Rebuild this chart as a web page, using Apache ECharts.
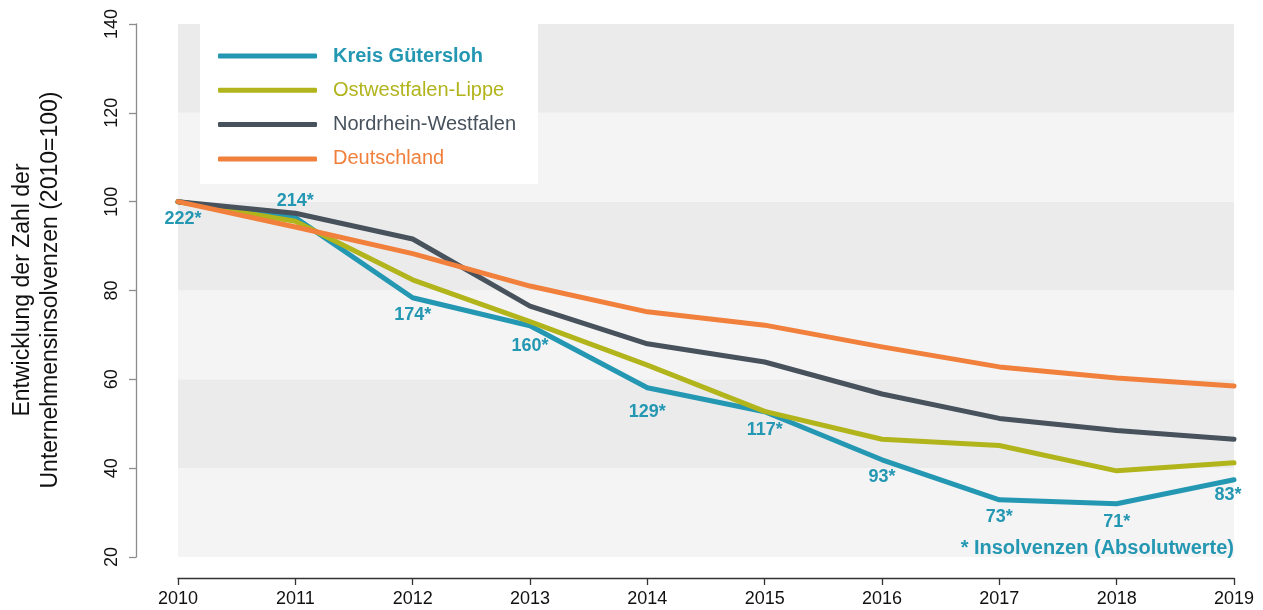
<!DOCTYPE html>
<html>
<head>
<meta charset="utf-8">
<title>Unternehmensinsolvenzen 2010–2019</title>
<script src="https://cdn.jsdelivr.net/npm/echarts@6/dist/echarts.min.js"></script>
<style>
  html, body { margin: 0; padding: 0; background: #fff; }
  #chart { width: 1263px; height: 610px; }
</style>
</head>
<body>
<div id="chart"></div>
<script>
// Jahre auf der x-Achse
const years = ['2010', '2011', '2012', '2013', '2014', '2015', '2016', '2017', '2018', '2019'];

// Kreis Gütersloh: absolute Zahl der Unternehmensinsolvenzen
const guetersloh_abs = [222, 214, 174, 160, 129, 117, 93, 73, 71, 83];

// Indexwerte (2010 = 100)
const owl = [100, 95.6, 82.4, 73.0, 63.2, 52.8, 46.5, 45.1, 39.4, 41.2];
const nrw = [100, 97.4, 91.6, 76.5, 68.0, 63.9, 56.7, 51.2, 48.5, 46.5];
const deutschland = [100, 94.3, 88.3, 81.0, 75.2, 72.2, 67.3, 62.8, 60.3, 58.5];

// Wertebereich der y-Achse
const yMin = 20, yMax = 140, yStep = 20;

const seriesNames = ['Kreis Gütersloh', 'Ostwestfalen-Lippe', 'Nordrhein-Westfalen', 'Deutschland'];
const colors = ['#2497b2', '#b2b41c', '#47525c', '#f0803c'];

// Index für Gütersloh aus den Absolutwerten (Basisjahr 2010)
const guetersloh = guetersloh_abs.map(v => v / guetersloh_abs[0] * 100);

// Lage der Beschriftungen je Jahr
const labelPos = ['bottom', 'top', 'bottom', 'bottom', 'bottom', 'bottom', 'bottom', 'bottom', 'bottom', 'bottom'];
const labelOffset = [[5, 0], [0, 0], [0, 0], [0, 3], [0, 7], [0, 1], [0, 0], [0, 0], [0, 1], [-6, -2]];

const FONT = "'Liberation Sans', Arial, Helvetica, sans-serif";

const chart = echarts.init(document.getElementById('chart'), null, { renderer: 'canvas' });

function lineSeries(name, data, color, extra) {
  return Object.assign({
    name: name,
    type: 'line',
    data: data,
    symbol: 'none',
    smooth: false,
    lineStyle: { width: 5, color: color, cap: 'round', join: 'round' },
    itemStyle: { color: color },
    emphasis: { disabled: true },
    z: 3
  }, extra || {});
}

const gueterslohData = guetersloh.map((v, i) => ({
  value: v,
  label: {
    show: true,
    position: labelPos[i],
    distance: 8,
    offset: labelOffset[i],
    formatter: guetersloh_abs[i] + '*'
  }
}));

const option = {
  animation: false,
  backgroundColor: '#ffffff',
  textStyle: { fontFamily: FONT },
  grid: { left: 178, right: 29, top: 24, bottom: 53, containLabel: false },
  xAxis: {
    type: 'category',
    data: years,
    boundaryGap: false,
    offset: 21,
    axisLine: { show: true, lineStyle: { color: '#333', width: 1.3 } },
    axisTick: { show: true, length: 7, lineStyle: { color: '#333', width: 1.3 } },
    axisLabel: { color: '#111', fontSize: 18, fontFamily: FONT, margin: 12 },
    splitLine: { show: false }
  },
  yAxis: {
    type: 'value',
    min: yMin,
    max: yMax,
    interval: yStep,
    offset: 42,
    axisLine: { show: true, lineStyle: { color: '#8c8c8c', width: 1.3 } },
    axisTick: { show: true, length: 7, lineStyle: { color: '#8c8c8c', width: 1.3 } },
    axisLabel: { color: '#111', fontSize: 18, fontFamily: FONT, rotate: 90, margin: 15 },
    splitLine: { show: false },
    splitArea: { show: true, areaStyle: { color: ['#f4f4f4', '#ebebeb'] } }
  },
  legend: {
    orient: 'vertical',
    left: 200,
    top: 24,
    backgroundColor: '#ffffff',
    padding: [22, 22, 15, 18],
    itemWidth: 99,
    itemHeight: 5,
    itemGap: 14.3,
    icon: 'roundRect',
    selectedMode: false,
    textStyle: { fontSize: 20, lineHeight: 20, fontFamily: FONT, padding: [0, 0, 0, 11] },
    data: seriesNames.map((n, i) => ({
      name: n,
      textStyle: { color: colors[i], fontWeight: i === 0 ? 'bold' : 'normal' }
    }))
  },
  graphic: [
    {
      type: 'text',
      x: 37,
      y: 290,
      z: 100,
      rotation: Math.PI / 2,
      style: {
        text: 'Entwicklung der Zahl der\nUnternehmensinsolvenzen (2010=100)',
        font: '23px ' + FONT,
        fill: '#111',
        textAlign: 'center',
        textVerticalAlign: 'middle',
        lineHeight: 28
      }
    },
    {
      type: 'text',
      x: 1234,
      y: 548,
      z: 100,
      style: {
        text: '* Insolvenzen (Absolutwerte)',
        font: 'bold 20px ' + FONT,
        fill: colors[0],
        textAlign: 'right',
        textVerticalAlign: 'middle'
      }
    }
  ],
  series: [
    lineSeries(seriesNames[0], gueterslohData, colors[0], {
      symbol: 'circle',
      symbolSize: 0,
      showSymbol: true,
      label: { show: true, color: colors[0], fontSize: 18, fontWeight: 'bold', fontFamily: FONT }
    }),
    lineSeries(seriesNames[1], owl, colors[1]),
    lineSeries(seriesNames[2], nrw, colors[2]),
    lineSeries(seriesNames[3], deutschland, colors[3])
  ]
};

chart.setOption(option);
</script>
</body>
</html>
